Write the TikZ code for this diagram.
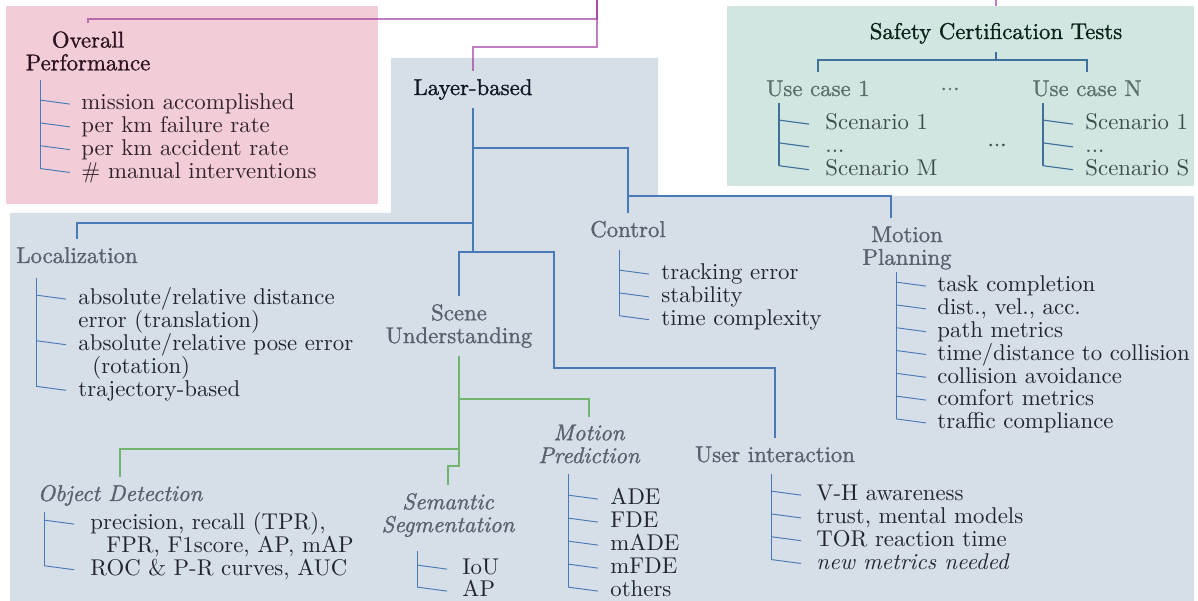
\documentclass[tikz,border=0pt]{standalone}
\usepackage{fontspec}
\newfontfamily\headfont{Latin Modern Roman}[FakeBold=1.2]
\usetikzlibrary{positioning,calc}

\definecolor{perfpink}{RGB}{242,205,216}
\definecolor{layerblue}{RGB}{214,223,232}
\definecolor{safegreen}{RGB}{209,230,224}
\definecolor{headgray}{RGB}{88,97,108}
\definecolor{itemdark}{RGB}{34,36,44}
\definecolor{perfdark}{RGB}{44,18,30}
\definecolor{perfitem}{RGB}{48,32,40}
\definecolor{layerdark}{RGB}{14,22,36}
\definecolor{safedark}{RGB}{10,34,26}
\definecolor{ucgray}{RGB}{92,112,108}
\definecolor{scengray}{RGB}{62,76,76}
\definecolor{treeblue}{RGB}{72,122,184}
\definecolor{safeline}{RGB}{62,112,156}
\definecolor{rootpurple}{RGB}{150,40,150}
\definecolor{scenegreen}{RGB}{112,180,112}
\newcommand{\diagfont}{\fontsize{10}{10}\selectfont}

\begin{document}
\begin{tikzpicture}[x=0.4386pt, y=-0.4386pt, font=\diagfont,
    head/.style={inner sep=3.3pt, text=headgray, align=center, font=\diagfont\headfont},
    item/.style={anchor=base west, inner sep=0pt, text height=1.6ex, text depth=.4ex, text=itemdark},
    tree/.style={treeblue, line width=.5pt},
    tick/.style={treeblue, line width=.42pt},
    safe/.style={safeline, line width=.5pt},
    root/.style={rootpurple, line width=.6pt, opacity=.6},
    scenetree/.style={scenegreen, line width=.5pt}]

    \useasboundingbox (0,0) rectangle (1198,601);

    % ================= BACKGROUNDS =================
    \fill[perfpink] (6,6) rectangle (378,204);
    \fill[safegreen] (727,6) rectangle (1194,186);
    \fill[layerblue] (10,213) -- (391,213) -- (391,58) -- (658,58) -- (658,196)
        -- (1194,196) -- (1194,601) -- (10,601) -- cycle;

    % ================= TOP LEVEL =================
    \node[head, text=perfdark] (perf) at (88,51) {Overall\\Performance};
    \node[head, text=layerdark, anchor=base] (layer) at (473,95) {Layer-based};
    \node[head, text=safedark, anchor=base] (safety) at (996,39) {Safety Certification Tests};

    % links coming from above the picture
    \coordinate (top1) at (597,0);
    \coordinate (top2) at (996,0);
    \coordinate (pj1) at (597,19);
    \coordinate (pj2) at (597,47);
    \coordinate (sbox) at (996,6);
    \draw[root] (top1) -- (pj1) -| (perf.north);
    \draw[root] (top1) -- (pj2) -| (layer.north);
    \draw[root] (top2) -- (sbox);

    % Overall performance
    \coordinate (perfv) at (40,80);
    \node[item, text=perfitem] (perf1) at (81,110) {mission accomplished};
    \node[item, text=perfitem] (perf2) at (81,132.8) {per km failure rate};
    \node[item, text=perfitem] (perf3) at (81,155.6) {per km accident rate};
    \node[item, text=perfitem] (perf4) at (81,178.4) {\# manual interventions};
    \draw[tick] (perfv) -- ($(perfv |- perf4.west)+(0,-4)$);
    \foreach \i in {perf1,perf2,perf3,perf4}
        \draw[tick] ($(perfv |- \i.west)+(0,-4)$) -- ($(perfv |- \i.west)+(30,0)$);

    % ================= SAFETY CERTIFICATION =================
    \node[head, text=ucgray, anchor=base] (uc1) at (818,96) {Use case 1};
    \node[head, text=ucgray, anchor=base] (ucN) at (1087,96) {Use case N};
    \node[head, text=ucgray, inner sep=1pt] (ucdots) at (950,89) {...};
    \coordinate (sj) at (996,60);
    \draw[safe] (safety.south) -- (sj);
    \draw[safe] (sj) -| (uc1.north);
    \draw[safe] (sj) -| (ucN.north);

    \coordinate (uc1v) at (779,103);
    \node[item, text=scengray] (uc1a) at (825,130) {Scenario 1};
    \node[item, text=scengray] (uc1b) at (825,152.8) {...};
    \node[item, text=scengray] (uc1c) at (825,175.6) {Scenario M};
    \node[head, text=scengray, inner sep=1pt] (scdots) at (997,145) {...};
    \coordinate (ucNv) at (1043,103);
    \node[item, text=scengray] (ucNa) at (1085,130) {Scenario 1};
    \node[item, text=scengray] (ucNb) at (1085,152.8) {...};
    \node[item, text=scengray] (ucNc) at (1085,175.6) {Scenario S};
    \draw[safe] (uc1v) -- ($(uc1v |- uc1c.west)+(0,-4)$);
    \draw[safe] (ucNv) -- ($(ucNv |- ucNc.west)+(0,-4)$);
    \foreach \i in {uc1a,uc1b,uc1c}
        \draw[safe] ($(uc1v |- \i.west)+(0,-4)$) -- ($(uc1v |- \i.west)+(30,0)$);
    \foreach \i in {ucNa,ucNb,ucNc}
        \draw[safe] ($(ucNv |- \i.west)+(0,-4)$) -- ($(ucNv |- \i.west)+(30,0)$);

    % ================= LAYER-BASED =================
    \node[head, anchor=base] (loc) at (77,263) {Localization};
    \node[head, anchor=base] (ctrl) at (628,237) {Control};
    \node[head] (plan) at (907,248) {Motion\\Planning};
    \node[head] (scene) at (459,326) {Scene\\Understanding};
    \node[head, anchor=base] (user) at (775,462) {User interaction};

    \coordinate (j1) at (473,148);
    \coordinate (j2) at (473,223);
    \coordinate (j3) at (473,252);
    \coordinate (j4) at (628,196);
    \coordinate (j5) at (554,368);
    \draw[tree] (layer.south) -- (j3);
    \draw[tree] (j1) -| (ctrl.north);
    \draw[tree] (j4) -| ([xshift=-7pt]plan.north);
    \draw[tree] (j2) -| (loc.north);
    \draw[tree] (j3) -| (scene.north);
    \draw[tree] (j3) -| (j5) -| (user.north);

    % Localization
    \coordinate (locv) at (36,278);
    \node[item] (loc1) at (78,305) {absolute/relative distance};
    \node[item] (loc1b) at (78,327.8) {error (translation)};
    \node[item] (loc2) at (78,350.6) {absolute/relative pose error};
    \node[item] (loc2b) at (92,373.4) {(rotation)};
    \node[item] (loc3) at (78,396.2) {trajectory-based};
    \draw[tick] (locv) -- ($(locv |- loc3.west)+(0,-4)$);
    \foreach \i in {loc1,loc2,loc3}
        \draw[tick] ($(locv |- \i.west)+(0,-4)$) -- ($(locv |- \i.west)+(30,0)$);

    % Control
    \coordinate (ctrlv) at (619,250);
    \node[item] (ctrl1) at (661,280) {tracking error};
    \node[item] (ctrl2) at (661,302.8) {stability};
    \node[item] (ctrl3) at (661,325.6) {time complexity};
    \draw[tick] (ctrlv) -- ($(ctrlv |- ctrl3.west)+(0,-4)$);
    \foreach \i in {ctrl1,ctrl2,ctrl3}
        \draw[tick] ($(ctrlv |- \i.west)+(0,-4)$) -- ($(ctrlv |- \i.west)+(30,0)$);

    % Motion planning
    \coordinate (planv) at (896,272);
    \node[item] (plan1) at (937,292) {task completion};
    \node[item] (plan2) at (937,314.8) {dist., vel., acc.};
    \node[item] (plan3) at (937,337.6) {path metrics};
    \node[item] (plan4) at (937,360.4) {time/distance to collision};
    \node[item] (plan5) at (937,383.2) {collision avoidance};
    \node[item] (plan6) at (937,406) {comfort metrics};
    \node[item] (plan7) at (937,428.8) {traffic compliance};
    \draw[tick] (planv) -- ($(planv |- plan7.west)+(0,-4)$);
    \foreach \i in {plan1,plan2,plan3,plan4,plan5,plan6,plan7}
        \draw[tick] ($(planv |- \i.west)+(0,-4)$) -- ($(planv |- \i.west)+(30,0)$);

    % User interaction
    \coordinate (userv) at (771,474);
    \node[item] (user1) at (816,501) {V-H awareness};
    \node[item] (user2) at (816,523.8) {trust, mental models};
    \node[item] (user3) at (816,546.6) {TOR reaction time};
    \node[item, font=\diagfont\itshape] (user4) at (816,569.4) {new metrics needed};
    \draw[tick] (userv) -- ($(userv |- user4.west)+(0,-4)$);
    \foreach \i in {user1,user2,user3,user4}
        \draw[tick] ($(userv |- \i.west)+(0,-4)$) -- ($(userv |- \i.west)+(30,0)$);

    % ================= SCENE UNDERSTANDING =================
    \node[head, font=\diagfont\headfont\itshape, anchor=base] (objdet) at (120,501) {Object Detection};
    \node[head, font=\diagfont\headfont\itshape] (semseg) at (448,515) {Semantic\\Segmentation};
    \node[head, font=\diagfont\headfont\itshape] (motpred) at (589,444) {Motion\\Prediction};

    \coordinate (g1) at (459,399);
    \coordinate (g2) at (459,449);
    \coordinate (g3) at (459,466);
    \draw[scenetree] (scene.south) -- (g3) -| (semseg.north);
    \draw[scenetree] (g1) -| (motpred.north);
    \draw[scenetree] (g2) -| (objdet.north);

    % Object detection
    \coordinate (odv) at (44,512);
    \node[item] (od1) at (90,530) {precision, recall (TPR),};
    \node[item] (od1b) at (106,552.8) {FPR, F1score, AP, mAP};
    \node[item] (od2) at (90,575.6) {ROC \& P-R curves, AUC};
    \draw[tick] (odv) -- ($(odv |- od2.west)+(0,-4)$);
    \foreach \i in {od1,od2}
        \draw[tick] ($(odv |- \i.west)+(0,-4)$) -- ($(odv |- \i.west)+(30,0)$);

    % Semantic segmentation
    \coordinate (segv) at (417,551);
    \node[item] (seg1) at (462,575) {IoU};
    \node[item] (seg2) at (462,597) {AP};
    \draw[tick] (segv) -- ($(segv |- seg2.west)+(0,-4)$);
    \foreach \i in {seg1,seg2}
        \draw[tick] ($(segv |- \i.west)+(0,-4)$) -- ($(segv |- \i.west)+(30,0)$);

    % Motion prediction
    \coordinate (predv) at (568,474);
    \node[item] (pred1) at (610,505) {ADE};
    \node[item] (pred2) at (610,528) {FDE};
    \node[item] (pred3) at (610,551) {mADE};
    \node[item] (pred4) at (610,574) {mFDE};
    \node[item] (pred5) at (610,597) {others};
    \draw[tick] (predv) -- ($(predv |- pred5.west)+(0,-4)$);
    \foreach \i in {pred1,pred2,pred3,pred4,pred5}
        \draw[tick] ($(predv |- \i.west)+(0,-4)$) -- ($(predv |- \i.west)+(30,0)$);

\end{tikzpicture}
\end{document}
